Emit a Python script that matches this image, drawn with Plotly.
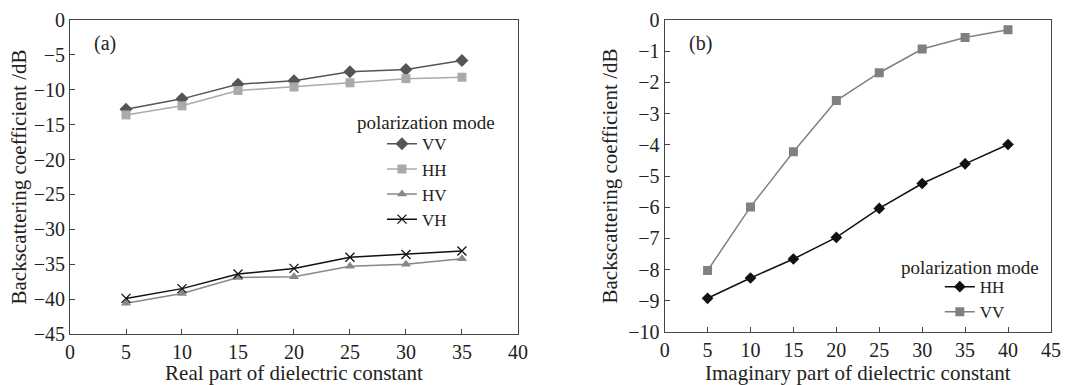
import plotly.graph_objects as go

# Panel (a)
real_eps = [5, 10, 15, 20, 25, 30, 35]
a_vv = [-12.8, -11.3, -9.2, -8.7, -7.4, -7.1, -5.8]
a_hh = [-13.6, -12.3, -10.1, -9.6, -9.0, -8.4, -8.2]
a_hv = [-40.6, -39.2, -36.9, -36.8, -35.3, -35.0, -34.2]
a_vh = [-39.9, -38.5, -36.4, -35.6, -34.0, -33.6, -33.1]

# Panel (b)
imag_eps = [5, 10, 15, 20, 25, 30, 35, 40]
b_hh = [-8.92, -8.27, -7.66, -6.97, -6.04, -5.24, -4.61, -3.99]
b_vv = [-8.03, -5.99, -4.22, -2.58, -1.69, -0.93, -0.56, -0.31]

FONT = "Times New Roman, Liberation Serif, serif"
TXT = "#222222"

fig = go.Figure()

def add(x, y, name, color, symbol, size, xa, ya, legend, lw=1.5):
    fig.add_trace(go.Scatter(
        x=x, y=y, name=name, mode="lines+markers",
        line=dict(color=color, width=lw),
        marker=dict(symbol=symbol, size=size, color=color,
                    line=dict(width=1.3 if symbol == "x-thin" else 0, color=color)),
        xaxis=xa, yaxis=ya, legend=legend))

add(real_eps, a_vv, "VV", "#555555", "diamond", 10, "x", "y", "legend")
add(real_eps, a_hh, "HH", "#aaaaaa", "square", 9, "x", "y", "legend")
add(real_eps, a_hv, "HV", "#888888", "triangle-up", 9, "x", "y", "legend")
add(real_eps, a_vh, "VH", "#111111", "x-thin", 9, "x", "y", "legend")
add(imag_eps, b_hh, "HH", "#111111", "diamond", 9, "x2", "y2", "legend2")
add(imag_eps, b_vv, "VV", "#808080", "square", 9, "x2", "y2", "legend2")

axis_common = dict(
    showline=True, linecolor="#444444", linewidth=1.2, mirror=True,
    ticks="inside", ticklen=5, tickcolor="#444444", tickwidth=1,
    showgrid=False, zeroline=False,
    tickfont=dict(family=FONT, size=20, color=TXT),
    automargin=False,
)
TITLE_FONT = dict(family=FONT, size=21, color=TXT)

fig.update_layout(
    width=1079, height=385,
    margin=dict(l=0, r=0, t=0, b=0),
    paper_bgcolor="white", plot_bgcolor="white",
    font=dict(family=FONT, color=TXT, size=18),
    xaxis=dict(axis_common, domain=[0.0649, 0.480], range=[0, 40], dtick=5,
               title=dict(text="Real part of dielectric constant",
                          font=TITLE_FONT, standoff=3),
               anchor="y"),
    yaxis=dict(axis_common, domain=[0.1325, 0.948], range=[-45, 0], dtick=5,
               title=dict(text="Backscattering coefficient /dB",
                          font=TITLE_FONT, standoff=1),
               anchor="x"),
    xaxis2=dict(axis_common, domain=[0.616, 0.974], range=[0, 45], dtick=5,
                title=dict(text="Imaginary part of dielectric constant",
                           font=TITLE_FONT, standoff=3),
                anchor="y2"),
    yaxis2=dict(axis_common, domain=[0.1377, 0.948], range=[-10, 0], dtick=1,
                title=dict(text="Backscattering coefficient /dB",
                           font=TITLE_FONT, standoff=4),
                anchor="x2"),
    legend=dict(x=0.354, y=0.672, xanchor="left", yanchor="top",
                bgcolor="rgba(0,0,0,0)", font=dict(family=FONT, size=17, color=TXT),
                itemwidth=30, tracegroupgap=0),
    legend2=dict(x=0.871, y=0.301, xanchor="left", yanchor="top",
                 bgcolor="rgba(0,0,0,0)", font=dict(family=FONT, size=17, color=TXT),
                 itemwidth=30, tracegroupgap=0),
    showlegend=True,
    annotations=[
        dict(text="(a)", x=0.085, y=0.886, xref="paper", yref="paper",
             xanchor="left", yanchor="middle", showarrow=False,
             font=dict(family=FONT, size=20, color=TXT)),
        dict(text="(b)", x=0.637, y=0.886, xref="paper", yref="paper",
             xanchor="left", yanchor="middle", showarrow=False,
             font=dict(family=FONT, size=20, color=TXT)),
        dict(text="polarization mode", x=0.329, y=0.683, xref="paper", yref="paper",
             xanchor="left", yanchor="middle", showarrow=False,
             font=dict(family=FONT, size=19, color=TXT)),
        dict(text="polarization mode", x=0.833, y=0.306, xref="paper", yref="paper",
             xanchor="left", yanchor="middle", showarrow=False,
             font=dict(family=FONT, size=19, color=TXT)),
    ],
)

fig.write_html("out.html")
